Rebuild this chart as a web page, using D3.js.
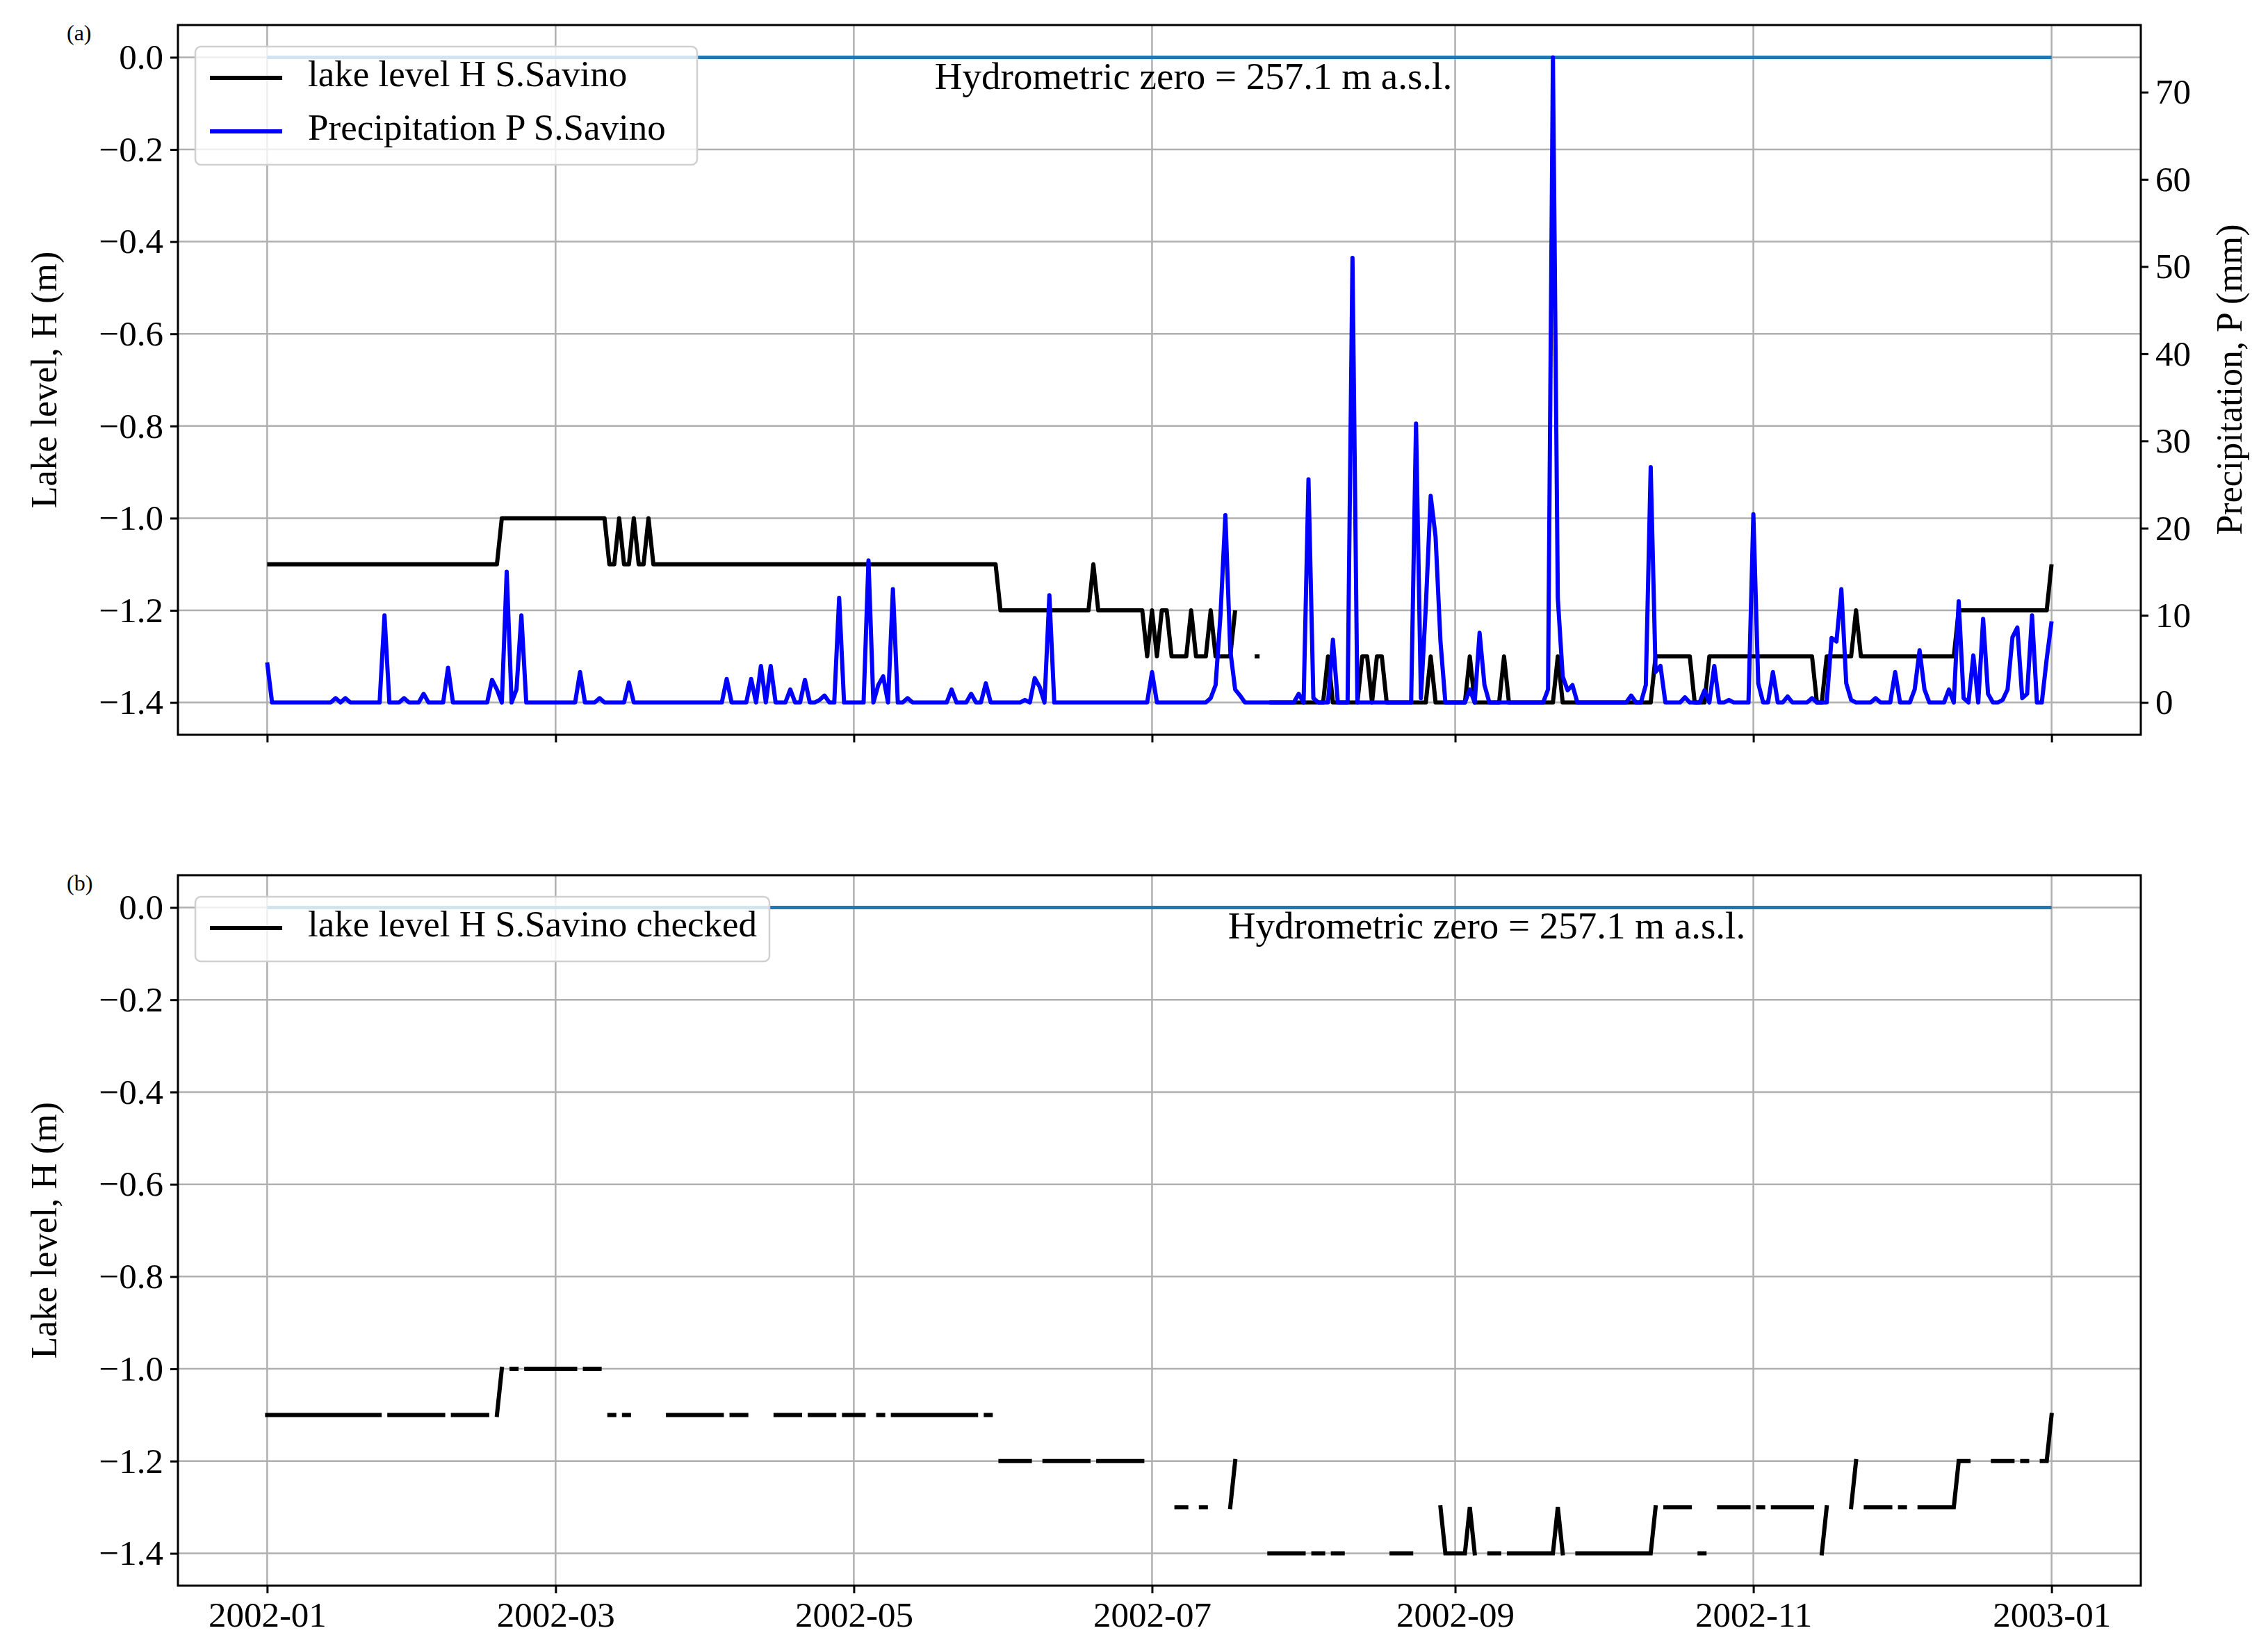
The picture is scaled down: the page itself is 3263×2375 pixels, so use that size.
<!DOCTYPE html>
<html>
<head>
<meta charset="utf-8">
<script src="https://cdn.jsdelivr.net/npm/d3@7"></script>
<style>
  body { margin: 0; background: #fff; }
  text { font-family: "Liberation Serif", "DejaVu Serif", serif; }
</style>
</head>
<body>
<svg id="chart" width="3263" height="2375"></svg>
<script>
// day index 0 = 2002-01-01, 365 = 2003-01-01
var lakeSteps = [[0,-1.1],[48,-1.0],[70,-1.1],[72,-1.0],[73,-1.1],[75,-1.0],[76,-1.1],[78,-1.0],[79,-1.1],
  [150,-1.2],[169,-1.1],[170,-1.2],[180,-1.3],[181,-1.2],[182,-1.3],[183,-1.2],[185,-1.3],[189,-1.2],[190,-1.3],
  [193,-1.2],[194,-1.3],[198,-1.2],[199,null],[202,-1.3],[204,null],[205,-1.4],[217,-1.3],[218,-1.4],[224,-1.3],
  [226,-1.4],[227,-1.3],[229,-1.4],[238,-1.3],[239,-1.4],[246,-1.3],[247,-1.4],[253,-1.3],[254,-1.4],[264,-1.3],
  [265,-1.4],[284,-1.3],[292,-1.4],[295,-1.3],[317,-1.4],[319,-1.3],[325,-1.2],[326,-1.3],[346,-1.2],[365,-1.1]];

var checkedRuns = [[0,23,-1.1],[25,36,-1.1],[38,45,-1.1],[47,47,-1.1],[48,48,-1.0],[50,51,-1.0],[53,63,-1.0],
  [65,68,-1.0],[70,71,-1.1],[73,74,-1.1],[82,93,-1.1],[95,98,-1.1],[104,109,-1.1],[111,116,-1.1],[118,122,-1.1],
  [125,126,-1.1],[128,145,-1.1],[147,148,-1.1],[150,156,-1.2],[159,168,-1.2],[170,179,-1.2],[186,188,-1.3],
  [191,192,-1.3],[197,197,-1.3],[198,198,-1.2],[205,212,-1.4],[214,216,-1.4],[218,220,-1.4],[230,234,-1.4],
  [240,240,-1.3],[241,245,-1.4],[246,246,-1.3],[247,247,-1.4],[250,252,-1.4],[254,263,-1.4],[264,264,-1.3],
  [265,265,-1.4],[268,283,-1.4],[284,284,-1.3],[286,291,-1.3],[293,294,-1.4],[297,303,-1.3],[305,306,-1.3],
  [308,316,-1.3],[318,318,-1.4],[319,319,-1.3],[324,324,-1.3],[325,325,-1.2],[327,332,-1.3],[334,335,-1.3],
  [338,345,-1.3],[346,348,-1.2],[353,357,-1.2],[359,360,-1.2],[363,364,-1.2],[365,365,-1.1]];

// rainy days (mm); every other day is 0
var rainDays = [0,14,16,24,28,32,37,46,47,49,51,52,64,68,74,94,99,101,103,107,110,113,114,117,123,125,126,128,131,
  140,144,147,155,157,158,160,181,193,194,195,196,197,198,199,211,213,214,218,222,235,236,237,238,239,240,246,248,249,
  262,263,264,265,266,267,279,282,283,284,285,290,294,296,299,304,305,308,311,316,320,321,322,323,324,329,333,337,
  338,339,344,346,347,349,351,352,355,356,357,358,359,360,361,364,365];
var rainValues = [4.6,0.5,0.5,10,0.5,1,4,2.6,1.5,15,1.5,10,3.5,0.5,2.3,2.7,2.7,4.2,4.2,1.5,2.6,0.3,0.8,12,16.3,2,3,13,0.5,
  1.5,1,2.2,0.3,2.8,1.8,12.3,3.5,0.5,2,10,21.5,6,1.5,0.8,1,25.6,0.5,7.2,51,32,0.5,11,23.7,19,7,1.5,8,2,
  1.5,74,12,3,1.4,2,0.8,2,27,3.5,4.2,0.6,1.4,4.2,0.3,21.6,2.2,3.5,0.7,0.5,7.4,7,13,2.2,0.3,0.5,3.5,1.5,
  6,1.5,1.5,11.6,0.5,5.4,9.6,1,0.3,1.5,7.5,8.6,0.5,1,10,5,9.3];

var legendA = ["lake level H S.Savino", "Precipitation P S.Savino"];
var legendB = ["lake level H S.Savino checked"];
var zeroNote = "Hydrometric zero = 257.1 m a.s.l.";

var nDays = 366;
var t0 = Date.UTC(2002, 0, 1);
function dayDate(d) { return new Date(t0 + d * 864e5); }

function lakeSeries() {
    let out = [];
    let k = 0;
    for (let d = 0; d < nDays; d++) {
        while (k + 1 < lakeSteps.length && lakeSteps[k + 1][0] <= d) k++;
        out.push({ d: d, v: lakeSteps[k][1] });
    }
    return out;
}
function checkedSeries() {
    let out = d3.range(nDays).map(d => ({ d: d, v: null }));
    checkedRuns.forEach(r => { for (let d = r[0]; d <= r[1]; d++) out[d].v = r[2]; });
    return out;
}
function rainSeries() {
    let out = d3.range(nDays).map(d => ({ d: d, v: 0 }));
    rainDays.forEach((d, i) => { out[d].v = rainValues[i]; });
    return out;
}

var svg = d3.select("#chart");
var L = 256, R = 3080;
var fs = 51;
var x = d3.scaleUtc()
    .domain([dayDate(-18.25), dayDate(365 + 18.25)])
    .range([L, R]);
var xTicks = d3.utcMonth.every(2).range(new Date(t0), dayDate(366));
var fmtY = v => d3.format(".1f")(v).replace("-", "\u2212");

function panel(top, bottom, label, showXLabels) {
    let y = d3.scaleLinear().domain([-1.47, 0.07]).range([bottom, top]);
    let g = svg.append("g");
    // grid
    g.append("g").selectAll("line").data(xTicks).enter().append("line")
        .attr("x1", d => x(d)).attr("x2", d => x(d)).attr("y1", top).attr("y2", bottom)
        .attr("stroke", "#b0b0b0").attr("stroke-width", 2.5);
    let yTicks = d3.range(0, 8).map(i => -i * 0.2);
    g.append("g").selectAll("line").data(yTicks).enter().append("line")
        .attr("x1", L).attr("x2", R).attr("y1", d => y(d)).attr("y2", d => y(d))
        .attr("stroke", "#b0b0b0").attr("stroke-width", 2.5);
    // left axis
    let ya = g.append("g").attr("transform", `translate(${L},0)`)
        .call(d3.axisLeft(y).tickValues(yTicks).tickFormat(fmtY).tickSize(11).tickPadding(10));
    ya.select(".domain").remove();
    ya.selectAll("line").attr("stroke-width", 3);
    ya.selectAll("text").attr("font-size", fs).attr("font-family", "Liberation Serif");
    // bottom axis
    let xa = g.append("g").attr("transform", `translate(0,${bottom})`)
        .call(d3.axisBottom(x).tickValues(xTicks).tickFormat(showXLabels ? d3.utcFormat("%Y-%m") : "").tickSize(11).tickPadding(12));
    xa.select(".domain").remove();
    xa.selectAll("line").attr("stroke-width", 3);
    xa.selectAll("text").attr("font-size", fs).attr("font-family", "Liberation Serif");
    g.append("text").attr("transform", `translate(69,${(top + bottom) / 2}) rotate(-90)`)
        .attr("text-anchor", "middle").attr("dominant-baseline", "middle")
        .attr("font-size", 52).text("Lake level, H (m)");
    g.append("text").attr("x", 96).attr("y", top + 22)
        .attr("font-family", "Liberation Sans, Arial, sans-serif").attr("font-size", 32)
        .text(label);
    // hydrometric zero line
    g.append("line").attr("x1", x(dayDate(0))).attr("x2", x(dayDate(365)))
        .attr("y1", y(0)).attr("y2", y(0)).attr("stroke", "#1f77b4").attr("stroke-width", 5);
    return { g: g, y: y, top: top, bottom: bottom };
}

function frame(p) {
    p.g.append("rect").attr("x", L).attr("y", p.top).attr("width", R - L).attr("height", p.bottom - p.top)
        .attr("fill", "none").attr("stroke", "#000").attr("stroke-width", 3);
}

function legend(p, items, colors, bx, by, bw) {
    let rowH = 77;
    let lg = p.g.append("g");
    lg.append("rect").attr("x", bx).attr("y", by).attr("width", bw).attr("height", 16 + rowH * items.length)
        .attr("rx", 8).attr("fill", "#fff").attr("fill-opacity", 0.8)
        .attr("stroke", "#d0d0d0").attr("stroke-width", 2.5);
    items.forEach((t, i) => {
        let cy = by + 45 + rowH * i;
        lg.append("line").attr("x1", bx + 21).attr("x2", bx + 125).attr("y1", cy).attr("y2", cy)
            .attr("stroke", colors[i]).attr("stroke-width", 6);
        lg.append("text").attr("x", bx + 162).attr("y", cy).attr("dominant-baseline", "middle")
            .attr("font-size", 53).text(t);
    });
}

// ---- panel (a)
var pa = panel(36, 1057, "(a)", false);
var yP = d3.scaleLinear().domain([-3.7, 77.7]).range([1057, 36]);
var lineA = d3.line().defined(d => d.v !== null).x(d => x(dayDate(d.d))).y(d => pa.y(d.v));
pa.g.append("path").datum(lakeSeries()).attr("d", lineA)
    .attr("fill", "none").attr("stroke", "#000").attr("stroke-width", 6).attr("stroke-linejoin", "round");
var lineP = d3.line().x(d => x(dayDate(d.d))).y(d => yP(d.v));
pa.g.append("path").datum(rainSeries()).attr("d", lineP)
    .attr("fill", "none").attr("stroke", "#0000ff").attr("stroke-width", 6).attr("stroke-linejoin", "round");
var yr = pa.g.append("g").attr("transform", `translate(${R},0)`)
    .call(d3.axisRight(yP).tickValues(d3.range(0, 71, 10)).tickSize(11).tickPadding(10));
yr.select(".domain").remove();
yr.selectAll("line").attr("stroke-width", 3);
yr.selectAll("text").attr("font-size", fs).attr("font-family", "Liberation Serif");
pa.g.append("text").attr("transform", `translate(3213,546) rotate(-90)`)
    .attr("text-anchor", "middle").attr("dominant-baseline", "middle")
    .attr("font-size", 52).text("Precipitation, P (mm)");
pa.g.append("text").attr("x", 1717).attr("y", 115).attr("text-anchor", "middle")
    .attr("dominant-baseline", "middle").attr("font-size", 55).text(zeroNote);
legend(pa, legendA, ["#000", "#0000ff"], 281, 67, 722);
frame(pa);

// ---- panel (b)
var pb = panel(1259, 2281, "(b)", true);
var lineB = d3.line().defined(d => d.v !== null).x(d => x(dayDate(d.d))).y(d => pb.y(d.v));
pb.g.append("path").datum(checkedSeries()).attr("d", lineB)
    .attr("fill", "none").attr("stroke", "#000").attr("stroke-width", 6).attr("stroke-linecap", "square");
pb.g.append("text").attr("x", 2139).attr("y", 1337).attr("text-anchor", "middle")
    .attr("dominant-baseline", "middle").attr("font-size", 55).text(zeroNote);
legend(pb, legendB, ["#000"], 281, 1290, 826);
frame(pb);
</script>
</body>
</html>
